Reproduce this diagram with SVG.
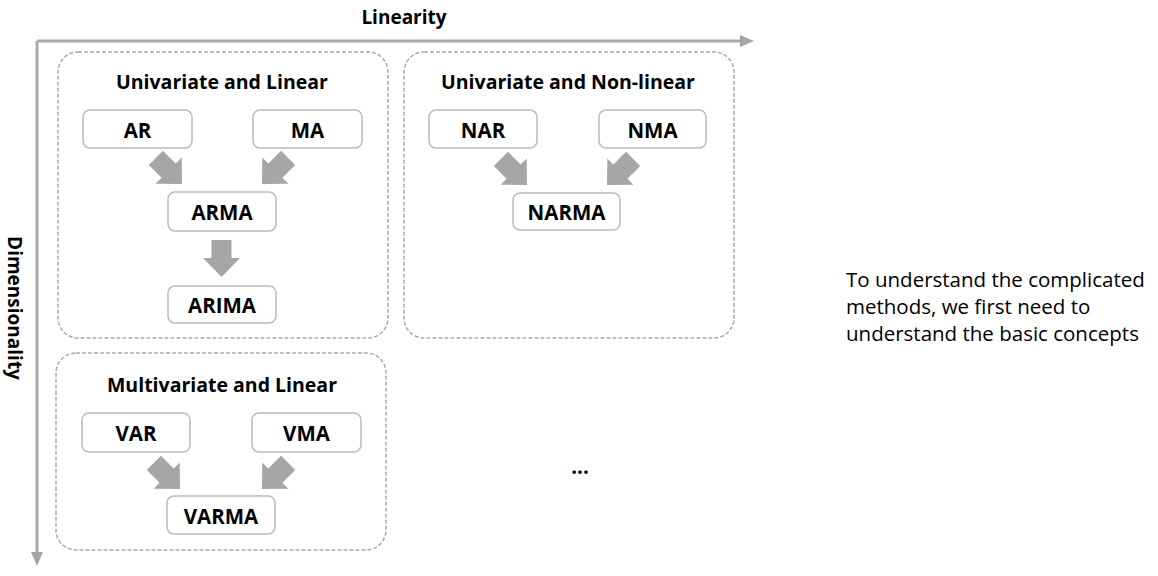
<svg xmlns="http://www.w3.org/2000/svg" width="1158" height="576" viewBox="0 0 1158 576">
<style>
.grp{fill:none;stroke:#aaa;stroke-width:1.5;stroke-dasharray:4 2}
.box{fill:#fff;stroke:#bbb;stroke-width:1.5}
.lbl{font-family:"Open Sans","Liberation Sans",sans-serif;font-weight:bold;font-size:20.5px;fill:#000;text-anchor:middle;dominant-baseline:central}
.ttl{font-family:"Open Sans","Liberation Sans",sans-serif;font-weight:bold;font-size:19.5px;fill:#000;text-anchor:middle;dominant-baseline:central}
.axl{font-family:"Open Sans","Liberation Sans",sans-serif;font-weight:bold;font-size:19px;fill:#000;text-anchor:middle;dominant-baseline:central}
.note{font-family:"Open Sans","Liberation Sans",sans-serif;font-size:20.5px;fill:#000}
.axis{stroke:#aaa;stroke-width:3;fill:none}
.fat{fill:#a6a6a6}
</style>
<defs>
<path id="fa" d="M-10,-18 H10 V0 H18.5 L0,19 L-18.5,0 H-10 Z"/>
</defs>
<g id="axes">
<path class="axis" d="M37,41 H742 M37,41 V554"/>
<path class="fat" d="M740,35 L754,41 L740,47 Z"/>
<path class="fat" d="M31,552 L37,566 L43,552 Z"/>
<text class="axl" x="404" y="17">Linearity</text>
<text class="axl" transform="translate(15,308) rotate(90)">Dimensionality</text>
</g>
<g id="group-ul">
<rect class="grp" x="58" y="52" width="330" height="286" rx="20"/>
<text class="ttl" x="222" y="81">Univariate and Linear</text>
</g>
<g id="group-unl">
<rect class="grp" x="404" y="52" width="330" height="286" rx="20"/>
<text class="ttl" x="568" y="81">Univariate and Non-linear</text>
</g>
<g id="group-ml">
<rect class="grp" x="56" y="353" width="330" height="197" rx="20"/>
<text class="ttl" x="222" y="384">Multivariate and Linear</text>
</g>
<g id="node-AR"><rect class="box" x="83" y="110" width="109" height="38" rx="7"/><text class="lbl" x="137.5" y="129.5">AR</text></g>
<g id="node-MA"><rect class="box" x="253" y="110" width="109" height="38" rx="7"/><text class="lbl" x="307.5" y="129.5">MA</text></g>
<g id="node-ARMA"><rect class="box" x="168" y="192" width="108" height="39" rx="7"/><text class="lbl" x="222" y="212">ARMA</text></g>
<g id="node-ARIMA"><rect class="box" x="168" y="286" width="108" height="37" rx="7"/><text class="lbl" x="222" y="305">ARIMA</text></g>
<g id="node-NAR"><rect class="box" x="429" y="110" width="108" height="38" rx="7"/><text class="lbl" x="483" y="129.5">NAR</text></g>
<g id="node-NMA"><rect class="box" x="599" y="110" width="107" height="38" rx="7"/><text class="lbl" x="652.5" y="129.5">NMA</text></g>
<g id="node-NARMA"><rect class="box" x="513" y="193" width="107" height="37" rx="7"/><text class="lbl" x="566.5" y="212">NARMA</text></g>
<g id="node-VAR"><rect class="box" x="82" y="413" width="108" height="39" rx="7"/><text class="lbl" x="136" y="433">VAR</text></g>
<g id="node-VMA"><rect class="box" x="252" y="413" width="109" height="39" rx="7"/><text class="lbl" x="306.5" y="433">VMA</text></g>
<g id="node-VARMA"><rect class="box" x="167" y="496" width="108" height="38" rx="7"/><text class="lbl" x="221" y="515.5">VARMA</text></g>
<g id="connectors">
<use href="#fa" class="fat" transform="translate(168.6,170.6) rotate(-45)"/>
<use href="#fa" class="fat" transform="translate(275.4,170.6) rotate(45)"/>
<use href="#fa" class="fat" transform="translate(221.5,258)"/>
<use href="#fa" class="fat" transform="translate(513.6,171.6) rotate(-45)"/>
<use href="#fa" class="fat" transform="translate(620.4,171.6) rotate(45)"/>
<use href="#fa" class="fat" transform="translate(166.6,475.6) rotate(-45)"/>
<use href="#fa" class="fat" transform="translate(275.4,475.6) rotate(45)"/>
</g>
<g id="ellipsis"><text class="lbl" x="580" y="466">...</text></g>
<g id="note">
<text class="note" x="846" y="287">To understand the complicated</text>
<text class="note" x="846" y="314">methods, we first need to</text>
<text class="note" x="846" y="341">understand the basic concepts</text>
</g>
</svg>
